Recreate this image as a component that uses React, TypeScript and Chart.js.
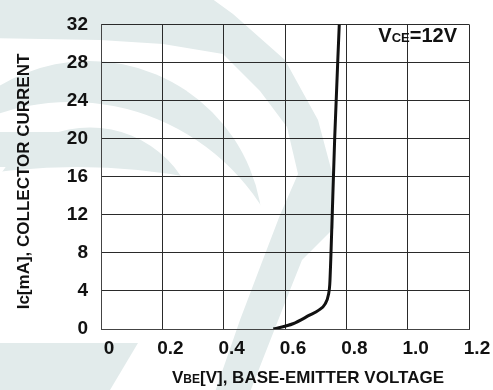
import { useEffect, useRef } from 'react';
import { Chart, registerables } from 'chart.js';

Chart.register(...registerables);

// ---- data ----
const VBE = [0.562, 0.626, 0.68, 0.709, 0.731, 0.742, 0.746, 0.75, 0.762, 0.777];
const IC = [0, 0.55, 1.45, 1.96, 2.64, 3.66, 4.7, 8, 20, 32];
const X_TICKS = [0, 0.2, 0.4, 0.6, 0.8, 1.0, 1.2];
const Y_TICKS = [0, 4, 8, 12, 16, 20, 24, 28, 32];
const X_TITLE = ['V', 'BE', '[V], BASE-EMITTER VOLTAGE'];
const Y_TITLE = 'Ic[mA], COLLECTOR CURRENT';
const NOTE = ['V', 'CE', '=12V'];

const FONT = '"Liberation Sans", Arial, Helvetica, sans-serif';
const WATERMARK = '#e2ebeb';

// decorative background logo outline (canvas pixels)
const LOGO_OUTER: [number, number][] = [
  [-10, -10], [200, -10], [233, 14], [285, 60], [318, 120], [334, 180], [334, 228],
  [302, 260], [290, 290], [250, 392], [215, 392], [240, 320], [262, 262], [280, 215],
  [298, 174], [287, 127], [260, 91], [223, 54], [163, 44], [100, 40], [-10, 38],
];

function runs(ctx: CanvasRenderingContext2D, parts: string[], sizes: number[], x: number, y: number, alignRight = false) {
  let total = 0;
  parts.forEach((t, i) => {
    ctx.font = `bold ${sizes[i]}px ${FONT}`;
    total += ctx.measureText(t).width;
  });
  let cx = alignRight ? x - total : x;
  ctx.textAlign = 'left';
  ctx.textBaseline = 'alphabetic';
  parts.forEach((t, i) => {
    ctx.font = `bold ${sizes[i]}px ${FONT}`;
    ctx.fillText(t, cx, y);
    cx += ctx.measureText(t).width;
  });
}

const decor = {
  id: 'decor',
  beforeDraw(chart: any) {
    const ctx: CanvasRenderingContext2D = chart.ctx;
    const w = chart.width;
    const h = chart.height;
    ctx.save();
    ctx.fillStyle = WATERMARK;
    // outer band
    ctx.beginPath();
    LOGO_OUTER.forEach(([x, y], i) => (i ? ctx.lineTo(x, y) : ctx.moveTo(x, y)));
    ctx.closePath();
    ctx.fill();
    // second band
    ctx.save();
    ctx.beginPath();
    ctx.arc(89, 235, 174, 0, Math.PI * 2);
    ctx.clip();
    ctx.beginPath();
    ctx.rect(-10, -10, w + 20, h + 20);
    ctx.arc(70.5, 329, 227, 0, Math.PI * 2, true);
    ctx.fill('evenodd');
    ctx.restore();
    // third band
    ctx.save();
    ctx.beginPath();
    ctx.arc(90, 237, 109.5, 0, Math.PI * 2);
    ctx.rect(-10, 132, 80, 35);
    ctx.clip();
    ctx.beginPath();
    ctx.rect(-10, -10, w + 20, h + 20);
    ctx.arc(77, 789, 622, 0, Math.PI * 2, true);
    ctx.fill('evenodd');
    ctx.restore();
    // bottom-left patch
    ctx.beginPath();
    ctx.moveTo(0, 343);
    ctx.lineTo(138, 343);
    ctx.lineTo(110, h);
    ctx.lineTo(0, h);
    ctx.closePath();
    ctx.fill();
    ctx.restore();
  },
  afterDraw(chart: any) {
    const ctx: CanvasRenderingContext2D = chart.ctx;
    const area = chart.chartArea;
    ctx.save();
    ctx.fillStyle = '#111';
    // x title
    runs(ctx, X_TITLE, [17, 12, 17], 172, 383);
    // y title
    ctx.save();
    ctx.translate(29, 181.5);
    ctx.rotate(-Math.PI / 2);
    ctx.font = `bold 17px ${FONT}`;
    ctx.textAlign = 'center';
    ctx.textBaseline = 'alphabetic';
    ctx.fillText(Y_TITLE, 0, 0);
    ctx.restore();
    // note
    runs(ctx, NOTE, [20, 13, 20], area.right - 12, 42, true);
    ctx.restore();
  },
};

export default function App() {
  const ref = useRef<HTMLCanvasElement>(null);
  useEffect(() => {
    document.body.style.margin = '0';
    const canvas = ref.current!;
    const chart = new Chart(canvas, {
      type: 'line',
      data: {
        datasets: [
          {
            data: VBE.map((v, i) => ({ x: v, y: IC[i] })),
            borderColor: '#111',
            borderWidth: 3,
            pointRadius: 0,
            cubicInterpolationMode: 'monotone',
            fill: false,
          },
        ],
      },
      options: {
        responsive: false,
        animation: false,
        devicePixelRatio: 1,
        layout: { padding: { top: 14, right: 24, left: 0, bottom: 0 } },
        plugins: { legend: { display: false }, tooltip: { enabled: false } },
        scales: {
          x: {
            type: 'linear',
            min: 0,
            max: 1.2,
            afterBuildTicks: (s: any) => {
              s.ticks = X_TICKS.map((v) => ({ value: v }));
            },
            afterFit: (s: any) => {
              s.height = 61;
            },
            grid: { color: '#2a2a2a', lineWidth: 1, drawTicks: false },
            border: { display: true, color: '#444', width: 1 },
            ticks: {
              padding: 8,
              labelOffset: 8,
              color: '#111',
              font: { family: FONT, size: 19, weight: 'bold' },
              callback: (v: any) => (Number(v) === 0 ? '0' : Number(v).toFixed(1)),
            },
          },
          y: {
            type: 'linear',
            min: 0,
            max: 32,
            afterBuildTicks: (s: any) => {
              s.ticks = Y_TICKS.map((v) => ({ value: v }));
            },
            afterFit: (s: any) => {
              s.width = 101;
            },
            grid: { color: '#2a2a2a', lineWidth: 1, drawTicks: false },
            border: { display: true, color: '#444', width: 1 },
            ticks: {
              padding: 13,
              color: '#111',
              font: { family: FONT, size: 19, weight: 'bold' },
              callback: (v: any) => String(v),
            },
          },
        },
      },
      plugins: [decor],
    } as any);
    return () => chart.destroy();
  }, []);
  return (
    <div style={{ width: 493, height: 390 }}>
      <canvas ref={ref} width={493} height={390} style={{ display: 'block' }} />
    </div>
  );
}
